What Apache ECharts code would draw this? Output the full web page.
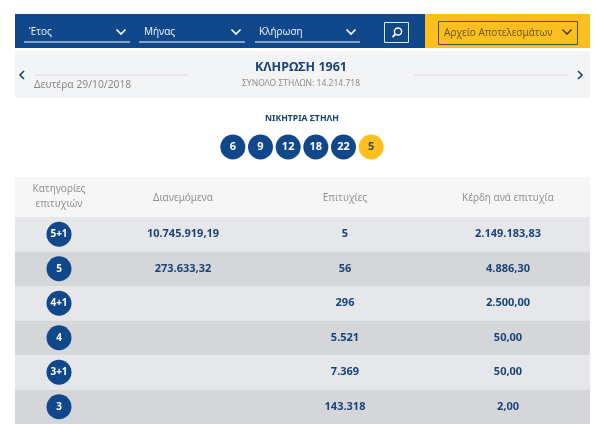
<!DOCTYPE html>
<html>
<head>
<meta charset="utf-8">
<title>ΚΛΗΡΩΣΗ 1961</title>
<style>
html, body { margin: 0; padding: 0; background: #fff; }
#chart { width: 600px; height: 424px; }
</style>
<script src="https://cdn.jsdelivr.net/npm/echarts@6/dist/echarts.min.js"></script>
</head>
<body>
<div id="chart"></div>
<script>
// winning numbers, the last one is the bonus number
var winningNumbers = ['6', '9', '12', '18', '22', '5'];

// table
var categories = ['5+1', '5', '4+1', '4', '3+1', '3'];
var distributed = ['10.745.919,19', '273.633,32', '', '', '', ''];
var winners = ['5', '56', '296', '5.521', '7.369', '143.318'];
var prizes = ['2.149.183,83', '4.886,30', '2.500,00', '50,00', '50,00', '2,00'];

var BLUE = '#11488c';
var NAVY = '#1a4479';
var YELLOW = '#fdbf1f';
var FONT = '"Noto Sans", sans-serif';

// column centres in table axis units
var COL_BADGE = 59, COL_DIST = 183, COL_WINS = 345, COL_PRIZE = 508;

function text(x, y, str, size, color, align, weight) {
    return {
        type: 'text', x: x, y: y, z: 5, silent: true,
        style: {
            text: str, fontFamily: FONT, fontSize: size, fill: color,
            align: align || 'left', verticalAlign: 'middle', fontWeight: weight || 'normal'
        }
    };
}
function rect(x, y, w, h, fill, stroke) {
    return {
        type: 'rect', z: 1, silent: true,
        shape: { x: x, y: y, width: w, height: h },
        style: { fill: fill, stroke: stroke || null, lineWidth: 1 }
    };
}
function line(x1, y1, x2, y2, color, width) {
    return {
        type: 'line', z: 3, silent: true,
        shape: { x1: x1, y1: y1, x2: x2, y2: y2 },
        style: { stroke: color, lineWidth: width }
    };
}
function chevron(points, color, width) {
    return {
        type: 'polyline', z: 4, silent: true,
        shape: { points: points },
        style: { stroke: color, lineWidth: width, fill: null }
    };
}
function chevronDown(cx, cy, color) {
    return chevron([[cx - 4.5, cy - 2.5], [cx, cy + 2], [cx + 4.5, cy - 2.5]], color, 1.6);
}

var graphics = [
    rect(15, 14, 410, 34, BLUE),
    rect(425, 14, 165, 34, YELLOW),
    rect(15, 51, 575, 47, '#f3f4f5'),
    rect(15, 177, 575, 40, '#f6f6f6'),

    // filters
    text(29, 32, 'Έτος', 10, '#eaf0f7'),
    text(144, 32, 'Μήνας', 10, '#eaf0f7'),
    text(259, 32, 'Κλήρωση', 10, '#eaf0f7'),
    line(24, 42, 130, 42, '#ffffff', 1.2),
    line(139, 42, 245, 42, '#ffffff', 1.2),
    line(255, 42, 360, 42, '#ffffff', 1.2),
    chevronDown(121, 32, '#ffffff'),
    chevronDown(236, 32, '#ffffff'),
    chevronDown(351, 32, '#ffffff'),

    // search button
    rect(384.5, 22.5, 24, 20, BLUE, '#dfe8f2'),
    { type: 'circle', z: 4, silent: true, shape: { cx: 398, cy: 31.5, r: 3.6 },
      style: { stroke: '#ffffff', lineWidth: 1.5, fill: null } },
    line(395.4, 34.2, 392.6, 37, '#ffffff', 1.8),

    // archive button
    rect(438.5, 21.5, 139, 23, YELLOW, '#4a4f45'),
    text(444, 33, 'Αρχείο Αποτελεσμάτων', 10, '#6d5a26'),
    chevronDown(567, 32, '#4a4436'),

    // draw header
    chevron([[24, 71], [20, 75], [24, 79]], '#20406c', 1.6),
    chevron([[578, 71], [582, 75], [578, 79]], '#20406c', 1.6),
    line(34, 75, 188, 75, '#dcdddf', 1),
    line(414, 75, 568, 75, '#dcdddf', 1),
    text(34, 85, 'Δευτέρα 29/10/2018', 10.3, '#8a8a8a'),
    text(301, 67, 'ΚΛΗΡΩΣΗ 1961', 12.5, NAVY, 'center', 'bold'),
    text(301, 84, 'ΣΥΝΟΛΟ ΣΤΗΛΩΝ: 14.214.718', 8.5, '#8e8e8e', 'center'),
    text(302, 119, 'ΝΙΚΗΤΡΙΑ ΣΤΗΛΗ', 8.7, NAVY, 'center', 'bold'),

    // table header
    text(COL_BADGE, 189, 'Κατηγορίες', 10, '#929292', 'center'),
    text(COL_BADGE, 204, 'επιτυχιών', 10, '#929292', 'center'),
    text(COL_DIST, 198, 'Διανεμόμενα', 10, '#929292', 'center'),
    text(COL_WINS, 198, 'Επιτυχίες', 10, '#929292', 'center'),
    text(COL_PRIZE, 198, 'Κέρδη ανά επιτυχία', 10, '#929292', 'center')
];

// one scatter series per table column, labels carry the values
function tableColumn(x, values) {
    var points = [];
    values.forEach(function (v, i) {
        if (v !== '') points.push({ value: [x, i], label: { formatter: v } });
    });
    return {
        type: 'scatter', xAxisIndex: 0, yAxisIndex: 0, silent: true,
        symbolSize: 1, itemStyle: { color: 'transparent', opacity: 1 }, data: points,
        label: {
            show: true, position: 'inside', color: NAVY,
            fontFamily: FONT, fontSize: 11, fontWeight: 'bold'
        }
    };
}

var option = {
    animation: false,
    backgroundColor: '#ffffff',
    graphic: graphics,
    grid: [
        { left: 15, top: 217, width: 575, height: 208 },
        { left: 219, top: 134, width: 166, height: 26 }
    ],
    xAxis: [
        { gridIndex: 0, type: 'value', min: 15, max: 590, show: false },
        { gridIndex: 1, type: 'category', data: winningNumbers, show: false }
    ],
    yAxis: [
        {
            gridIndex: 0, type: 'category', data: categories, inverse: true,
            axisLine: { show: false }, axisTick: { show: false }, axisLabel: { show: false },
            splitLine: { show: false },
            splitArea: { show: true, areaStyle: { color: ['#e5e7ea', '#d4d6d9'] } }
        },
        { gridIndex: 1, type: 'value', min: 0, max: 2, show: false }
    ],
    series: [
        {
            // winning number balls
            type: 'scatter', xAxisIndex: 1, yAxisIndex: 1, silent: true, symbolSize: 25,
            data: winningNumbers.map(function (n, i) {
                var bonus = i === winningNumbers.length - 1;
                return {
                    value: [i, 1],
                    itemStyle: { color: bonus ? YELLOW : BLUE, opacity: 1 },
                    label: { formatter: n, color: bonus ? '#3c4a5c' : '#ffffff' }
                };
            }),
            label: { show: true, position: 'inside', fontFamily: FONT, fontSize: 11, fontWeight: 'bold' }
        },
        {
            // category badges
            type: 'scatter', xAxisIndex: 0, yAxisIndex: 0, silent: true, symbolSize: 25,
            itemStyle: { color: BLUE, opacity: 1 },
            data: categories.map(function (c, i) {
                return { value: [COL_BADGE, i], label: { formatter: c } };
            }),
            label: {
                show: true, position: 'inside', color: '#ffffff',
                fontFamily: FONT, fontSize: 10, fontWeight: 'bold'
            }
        },
        tableColumn(COL_DIST, distributed),
        tableColumn(COL_WINS, winners),
        tableColumn(COL_PRIZE, prizes)
    ]
};

var myChart = echarts.init(document.getElementById('chart'));
myChart.setOption(option);
</script>
</body>
</html>
